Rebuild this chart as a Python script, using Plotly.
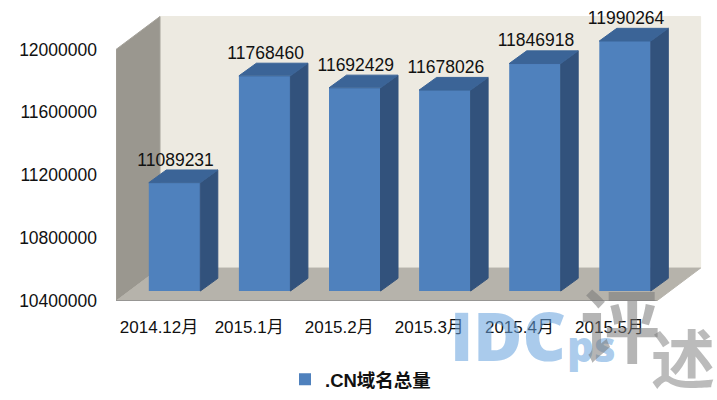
import plotly.graph_objects as go

categories = ["2014.12月", "2015.1月", "2015.2月", "2015.3月", "2015.4月", "2015.5月"]
totals = [11089231, 11768460, 11692429, 11678026, 11846918, 11990264]
y_ticks = [10400000, 10800000, 11200000, 11600000, 12000000]
series_name = ".CN域名总量"

W, H = 717, 400
LEFT, RIGHT, TOP, BOTTOM = 116, 716, 5, 301.5
PX_X = 90.1            # pixels per category
PX_Y = 1 / 6350        # values -> pixels
YMIN, YMAX = 10400000, 12000000
BAR_W = 51.5 / PX_X

def ux(px):
    return px / PX_X

def uy(px):
    return px / PX_Y

x_base = -0.5
x_range = [x_base, x_base + ux(RIGHT - LEFT)]
y_range = [YMIN, YMIN + uy(BOTTOM - TOP)]
SHIFT_X, SHIFT_Y = ux(13.5), uy(10)
WALL_DX, WALL_DY = ux(44), uy(33)
BAR_DX, BAR_DY = ux(17.5), uy(12.7)
LABEL_SHIFT = ux(2)
x0 = x_base + LABEL_SHIFT
x_end = x0 + len(categories)

fig = go.Figure()

def poly(xs, ys, color, line=None, axes=("x", "y"), **kw):
    fig.add_trace(go.Scatter(
        x=xs + xs[:1], y=ys + ys[:1], mode="lines", fill="toself", fillcolor=color,
        line=dict(color=line or color, width=1), hoverinfo="skip", showlegend=False,
        xaxis=axes[0], yaxis=axes[1], **kw))

# back wall, left wall, floor
poly([x0 + WALL_DX, x_end + WALL_DX, x_end + WALL_DX, x0 + WALL_DX],
     [YMIN + WALL_DY, YMIN + WALL_DY, YMAX + WALL_DY, YMAX + WALL_DY], "#edeae1")
poly([x0, x0 + WALL_DX, x0 + WALL_DX, x0],
     [YMIN, YMIN + WALL_DY, YMAX + WALL_DY, YMAX], "#9a978f", line="#a5a29a")
poly([x0, x_end, x_end + WALL_DX, x0 + WALL_DX],
     [YMIN, YMIN, YMIN + WALL_DY, YMIN + WALL_DY], "#b6b3ab", line="#b6b3ab")
fig.add_trace(go.Scatter(x=[x0, x_end], y=[YMIN, YMIN], mode="lines",
                         line=dict(color="#8c8c8c", width=1.5), hoverinfo="skip", showlegend=False))

# tick-label carrier on the front plane
fig.add_trace(go.Scatter(x=list(range(len(categories))), y=[YMIN] * len(categories), mode="markers",
                         marker=dict(opacity=0), hoverinfo="skip", showlegend=False))

# front faces
fig.add_trace(go.Bar(x=list(range(len(categories))), y=[v - YMIN for v in totals], base=YMIN,
                     width=BAR_W, marker=dict(color="#4f81bd", line=dict(width=0)),
                     name=series_name, xaxis="x2", yaxis="y2", hoverinfo="skip"))

# side and top faces
for i, v in enumerate(totals):
    l, r = i - BAR_W / 2, i + BAR_W / 2
    poly([r, r + BAR_DX, r + BAR_DX, r], [YMIN, YMIN + BAR_DY, v + BAR_DY, v],
         "#32527c", axes=("x2", "y2"))
    poly([l, r, r + BAR_DX, l + BAR_DX], [v, v, v + BAR_DY, v + BAR_DY],
         "#3b6497", axes=("x2", "y2"))

# data labels
fig.add_trace(go.Scatter(
    x=[i + ux(1) for i in range(len(totals))], y=[v + BAR_DY for v in totals],
    text=[str(v) for v in totals], mode="text", textposition="top center",
    textfont=dict(size=17.5, color="#111111"), hoverinfo="skip", showlegend=False,
    xaxis="x2", yaxis="y2", cliponaxis=False))

FONT = "Liberation Sans, Arial, Noto Sans CJK SC, sans-serif"

def ann(text, px, py, size, color, family=FONT, weight="normal", **kw):
    fig.add_annotation(
        text=text, xref="paper", yref="paper",
        x=(px - LEFT) / (RIGHT - LEFT), y=(BOTTOM - py) / (BOTTOM - TOP),
        showarrow=False, xanchor="center", yanchor="middle",
        font=dict(size=size, color=color, family=family, weight=weight), **kw)

# watermark
ann("IDC", 508, 336, 67, "rgba(100,160,220,0.55)", family="Open Sans", weight=800)
ann("ps", 591, 346, 42, "rgba(100,160,220,0.55)", family="Open Sans", weight=800)
ann("评", 620, 322, 80, "rgba(120,120,120,0.55)", family="Noto Sans CJK SC", weight=700)
ann("述", 683, 356, 64, "rgba(120,120,120,0.5)", family="Noto Sans CJK SC", weight=700)

axis_off = dict(visible=False, showgrid=False, zeroline=False, fixedrange=True)
fig.update_layout(
    width=W, height=H, autosize=False,
    margin=dict(l=LEFT, r=W - RIGHT, t=TOP, b=H - BOTTOM, pad=0),
    paper_bgcolor="white", plot_bgcolor="rgba(0,0,0,0)",
    font=dict(family=FONT, size=17, color="#111111"),
    xaxis=dict(range=[r + LABEL_SHIFT for r in x_range], tickmode="array",
               tickvals=list(range(len(categories))),
               ticktext=categories, showgrid=False, zeroline=False, showline=False,
               ticks="", ticklabelstandoff=14, fixedrange=True, tickfont=dict(size=17)),
    yaxis=dict(range=y_range, tickmode="array", tickvals=y_ticks, ticktext=[str(t) for t in y_ticks],
               showgrid=False, zeroline=False, showline=False, ticks="", ticklabelstandoff=18,
               fixedrange=True, tickfont=dict(size=17.5)),
    xaxis2=dict(range=[r - SHIFT_X for r in x_range], overlaying="x", **axis_off),
    yaxis2=dict(range=[r - SHIFT_Y for r in y_range], overlaying="y", **axis_off),
    showlegend=True,
    legend=dict(x=(285 - LEFT) / (RIGHT - LEFT), y=(BOTTOM - 399.5) / (BOTTOM - TOP),
                xanchor="left", yanchor="bottom", bgcolor="rgba(0,0,0,0)",
                font=dict(size=18.5, color="#111111", family="Liberation Sans, Noto Sans CJK SC", weight="bold")),
)

fig.write_html("out.html", config=dict(displayModeBar=False),
               post_script="document.body.style.margin='0';window.dispatchEvent(new Event('resize'));")
